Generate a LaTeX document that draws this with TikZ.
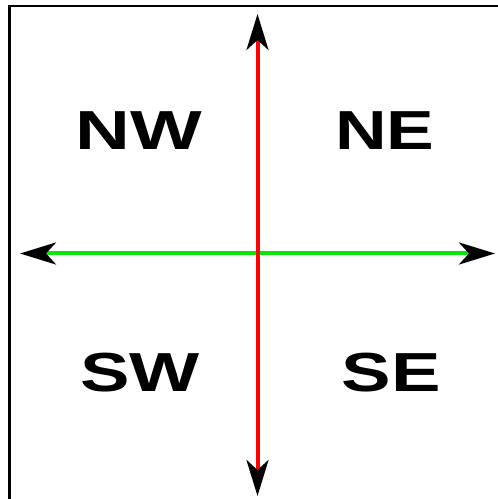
\documentclass[tikz,border=0pt]{standalone}
\usepackage{fontspec}
\setmainfont{Liberation Sans}
\usetikzlibrary{arrows.meta}
\definecolor{axisred}{RGB}{255,0,0}
\definecolor{axisgreen}{RGB}{10,230,10}
\begin{document}
\begin{tikzpicture}[x=1pt,y=1pt,
  lbl/.style={anchor=base,inner sep=0pt,font=\fontsize{55}{60}\selectfont\bfseries},
  axis/.style={{Stealth[length=36pt,width=22pt,inset=10pt,black]}-{Stealth[length=36pt,width=22pt,inset=10pt,black]}, line width=4pt}]
\useasboundingbox (0,0) rectangle (498,499);
\clip (0,0) rectangle (498,499);
\draw[line width=2.2pt] (9.5,-20) -- (9.5,493) -- (520,493);
\coordinate (top) at (257.5,485);
\coordinate (bot) at (257.5,3);
\coordinate (lft) at (20,245.5);
\coordinate (rgt) at (495,245.5);
\draw[axis,axisgreen] (lft) -- (rgt);
\draw[axis,axisred] (bot) -- (top);
\node[lbl] (nw) at (139,349) {\scalebox{1.38}[1]{NW}};
\node[lbl] (ne) at (385,349) {\scalebox{1.3}[1]{NE}};
\node[lbl] (sw) at (140,107) {\scalebox{1.35}[1]{SW}};
\node[lbl] (se) at (391.5,107) {\scalebox{1.35}[1]{SE}};
\end{tikzpicture}
\end{document}
